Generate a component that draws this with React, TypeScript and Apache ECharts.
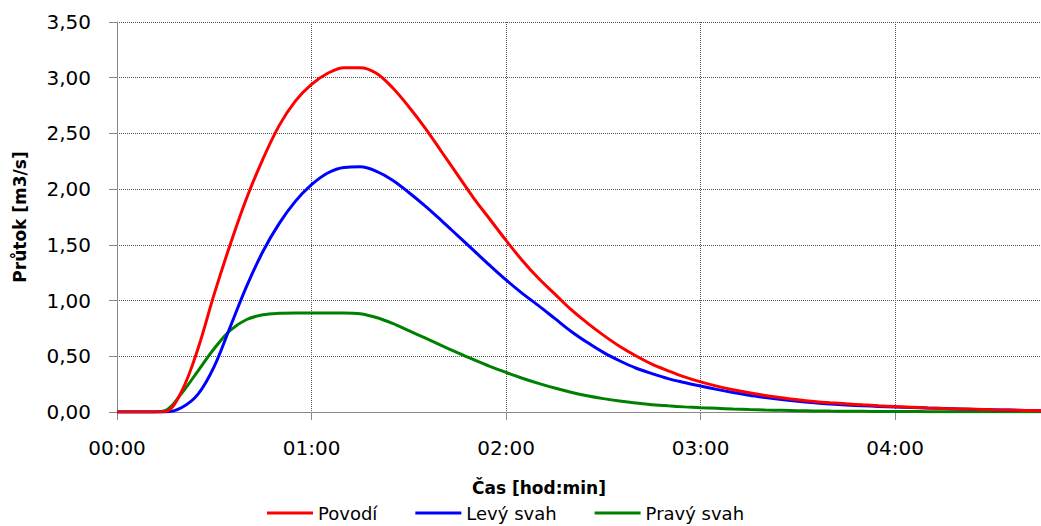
import React, { useEffect, useRef } from "react";
import * as echarts from "echarts";

// time in minutes
const minutes = [
  0, 5, 10, 15, 20, 25, 30, 35, 40, 45, 50, 55, 60, 65, 70, 75, 80, 85, 90, 95,
  100, 105, 110, 115, 120, 125, 130, 135, 140, 145, 150, 155, 160, 165, 170, 175,
  180, 185, 190, 195, 200, 205, 210, 215, 220, 225, 230, 235, 240, 245, 250, 255,
  260, 265, 270, 275, 280, 285,
];

const povodi = [
  0, 0, 0, 0.005, 0.19, 0.57, 1.06, 1.51, 1.92, 2.27, 2.57, 2.79, 2.94, 3.04, 3.09, 3.09,
  3.04, 2.91, 2.74, 2.55, 2.34, 2.13, 1.92, 1.73, 1.54, 1.36, 1.2, 1.06, 0.92, 0.8,
  0.69, 0.59, 0.505, 0.43, 0.37, 0.315, 0.27, 0.232, 0.2, 0.172, 0.148, 0.128, 0.11,
  0.095, 0.083, 0.073, 0.064, 0.056, 0.049, 0.043, 0.037, 0.032, 0.028, 0.024,
  0.02, 0.017, 0.014, 0.012,
];

const levySvah = [
  0, 0, 0, 0, 0.04, 0.16, 0.41, 0.77, 1.13, 1.44, 1.69, 1.89, 2.04, 2.145, 2.195, 2.2,
  2.16, 2.08, 1.97, 1.85, 1.72, 1.585, 1.45, 1.315, 1.185, 1.065, 0.955, 0.84, 0.725,
  0.625, 0.535, 0.46, 0.395, 0.345, 0.3, 0.265, 0.233, 0.203, 0.175, 0.15, 0.13,
  0.112, 0.096, 0.083, 0.072, 0.063, 0.056, 0.05, 0.045, 0.04, 0.035, 0.031, 0.027,
  0.023, 0.02, 0.017, 0.014, 0.012,
];

const pravySvah = [
  0, 0, 0, 0.015, 0.17, 0.37, 0.57, 0.735, 0.83, 0.872, 0.886, 0.889, 0.889, 0.889,
  0.889, 0.882, 0.848, 0.795, 0.73, 0.665, 0.598, 0.533, 0.47, 0.41, 0.355, 0.303,
  0.257, 0.215, 0.178, 0.146, 0.12, 0.098, 0.08, 0.066, 0.055, 0.046, 0.039, 0.033,
  0.027, 0.022, 0.018, 0.015, 0.012, 0.01, 0.008, 0.007, 0.006, 0.005, 0.004, 0.004,
  0.003, 0.003, 0.003, 0.002, 0.002, 0.002, 0.002, 0.002,
];

const seriesNames = ["Povodí", "Levý svah", "Pravý svah"];
const seriesColors = ["#FF0000", "#0000FF", "#008000"];
const xTitle = "Čas [hod:min]";
const yTitle = "Průtok [m3/s]";

const pad = (n: number) => (n < 10 ? "0" + n : "" + n);
const fmtTime = (v: number) => pad(Math.floor(v / 60)) + ":" + pad(Math.round(v % 60));
const fmtNum = (v: number) => v.toFixed(2).replace(".", ",");

export default function App() {
  const ref = useRef<HTMLDivElement>(null);
  useEffect(() => {
    if (!ref.current) return;
    const chart = echarts.init(ref.current, null, { renderer: "svg" });
    const font = "DejaVu Sans";
    const allData = [povodi, levySvah, pravySvah];
    chart.setOption({
      animation: false,
      backgroundColor: "#ffffff",
      grid: { left: 117, right: 19, top: 22, bottom: 114, containLabel: false },
      legend: {
        data: seriesNames,
        left: 267,
        top: 504,
        itemWidth: 46,
        itemHeight: 3,
        itemGap: 38,
        padding: 0,
        icon: "rect",
        textStyle: { fontFamily: font, fontSize: 18, color: "#000" },
      },
      xAxis: {
        type: "value",
        min: 0,
        max: 285,
        interval: 60,
        axisLine: { show: true, lineStyle: { color: "#888", width: 1 } },
        axisTick: { show: true, length: 8, lineStyle: { color: "#888" } },
        axisLabel: {
          formatter: (v: number) => fmtTime(v),
          showMaxLabel: false,
          margin: 26,
          fontFamily: font,
          fontSize: 20,
          color: "#000",
        },
        splitLine: { show: true, lineStyle: { color: "#555", type: "dotted", width: 1 } },
      },
      yAxis: {
        type: "value",
        min: 0,
        max: 3.5,
        interval: 0.5,
        axisLine: { show: true, lineStyle: { color: "#888", width: 1 } },
        axisTick: { show: true, length: 8, lineStyle: { color: "#888" } },
        axisLabel: {
          formatter: (v: number) => fmtNum(v),
          margin: 26,
          fontFamily: font,
          fontSize: 20,
          color: "#000",
        },
        splitLine: { show: true, lineStyle: { color: "#555", type: "dotted", width: 1 } },
      },
      graphic: [
        {
          type: "text",
          left: 540 - 68,
          top: 479,
          style: {
            text: xTitle,
            font: "bold 17px 'DejaVu Sans'",
            fill: "#000",
          },
        },
        {
          type: "text",
          x: 20,
          y: 217,
          rotation: Math.PI / 2,
          style: {
            text: yTitle,
            font: "bold 17px 'DejaVu Sans'",
            fill: "#000",
            align: "center",
            verticalAlign: "middle",
          },
        },
      ],
      series: seriesNames.map((name, i) => ({
        name,
        type: "line",
        data: minutes.map((m, j) => [m, allData[i][j]]),
        showSymbol: false,
        symbol: "none",
        smooth: 0.35,
        lineStyle: { color: seriesColors[i], width: 3 },
        itemStyle: { color: seriesColors[i] },
        z: 3 + (2 - i),
      })),
    });
    return () => chart.dispose();
  }, []);
  return (
    <div style={{ position: "fixed", left: 0, top: 0, width: 1041, height: 526, overflow: "hidden" }}>
      <div ref={ref} style={{ width: 1060, height: 526 }} />
    </div>
  );
}
